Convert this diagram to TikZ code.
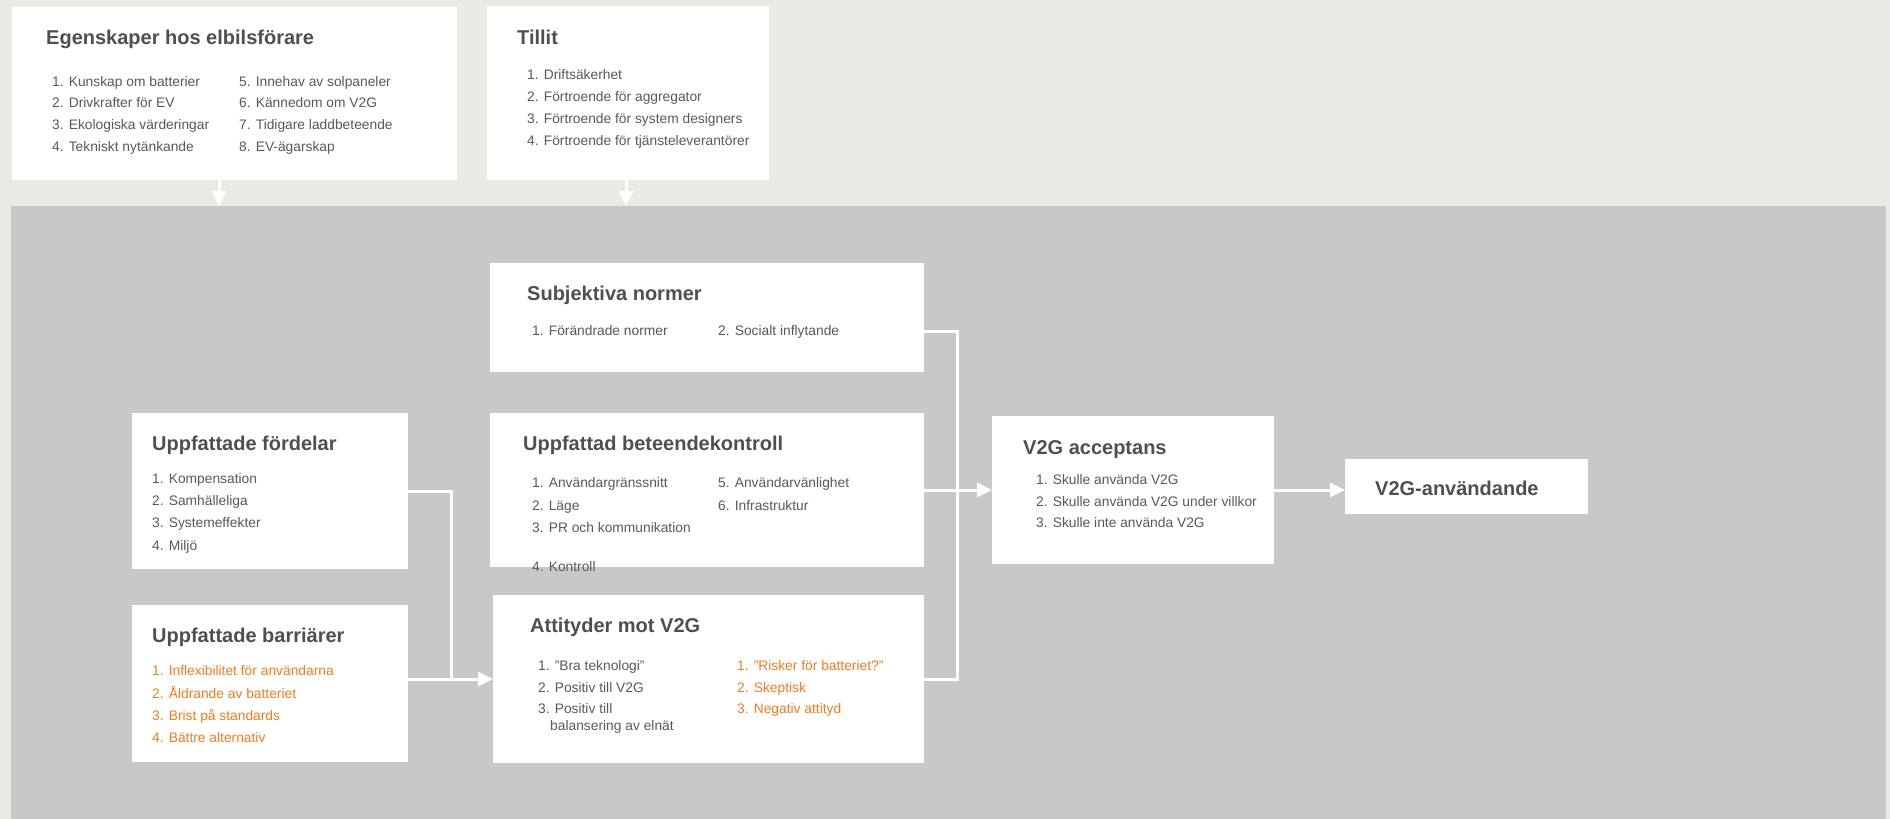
\documentclass[tikz,border=0pt]{standalone}
\usepackage{fontspec}
\setmainfont{Liberation Sans}
\usetikzlibrary{arrows.meta}
\definecolor{pagebg}{RGB}{234,234,228}
\definecolor{panelbg}{RGB}{200,200,198}
\definecolor{headcol}{RGB}{77,79,83}
\definecolor{itemcol}{RGB}{89,89,89}
\definecolor{warncol}{RGB}{242,125,30}

\begin{document}
\begin{tikzpicture}[x=1pt,y=-1pt,
  box/.style={fill=white, draw=none, inner sep=0pt, outer sep=0pt, anchor=north west},
  head/.style={font=\fontsize{20}{24}\selectfont\bfseries, text=headcol, inner sep=0pt, anchor=base west},
  item/.style={font=\fontsize{13.8}{16}\selectfont, text=itemcol, inner sep=0pt, anchor=base west},
  warn/.style={item, text=warncol},
  link/.style={draw=white, line width=3pt, line cap=rect},
  flow/.style={draw=white, line width=3pt, -{Triangle[length=15pt,width=14pt]}},
]
% page and grey model panel
\useasboundingbox (0,0) rectangle (1890,819);
\fill[pagebg] (0,0) rectangle (1890,819);
\node[fill=panelbg, inner sep=0pt, outer sep=0pt, anchor=north west,
      minimum width=1875pt, minimum height=613pt] (panel) at (11,206) {};

% ---- external factors (top row)
\node[box, minimum width=445pt, minimum height=173pt] (egen) at (12,7) {};
\node[head] (egenT) at (46,44) {Egenskaper hos elbilsförare};
\node[item] (egen1) at (52,86)  {1. Kunskap om batterier};
\node[item] (egen2) at (52,107) {2. Drivkrafter för EV};
\node[item] (egen3) at (52,129) {3. Ekologiska värderingar};
\node[item] (egen4) at (52,151) {4. Tekniskt nytänkande};
\node[item] (egen5) at (239,86)  {5. Innehav av solpaneler};
\node[item] (egen6) at (239,107) {6. Kännedom om V2G};
\node[item] (egen7) at (239,129) {7. Tidigare laddbeteende};
\node[item] (egen8) at (239,151) {8. EV-ägarskap};

\node[box, minimum width=282pt, minimum height=174pt] (tillit) at (487,6) {};
\node[head] (tillitT) at (517,44) {Tillit};
\node[item] (tillit1) at (527,79)  {1. Driftsäkerhet};
\node[item] (tillit2) at (527,101) {2. Förtroende för aggregator};
\node[item] (tillit3) at (527,123) {3. Förtroende för system designers};
\node[item] (tillit4) at (527,145) {4. Förtroende för tjänsteleverantörer};

% ---- perceived benefits and barriers
\node[box, minimum width=276pt, minimum height=156pt] (ford) at (132,413) {};
\node[head] (fordT) at (152,450) {Uppfattade fördelar};
\node[item] (ford1) at (152,483) {1. Kompensation};
\node[item] (ford2) at (152,505) {2. Samhälleliga};
\node[item] (ford3) at (152,527) {3. Systemeffekter};
\node[item] (ford4) at (152,550) {4. Miljö};

\node[box, minimum width=276pt, minimum height=157pt] (barr) at (132,605) {};
\node[head] (barrT) at (152,642) {Uppfattade barriärer};
\node[warn] (barr1) at (152,675) {1. Inflexibilitet för användarna};
\node[warn] (barr2) at (152,698) {2. Åldrande av batteriet};
\node[warn] (barr3) at (152,720) {3. Brist på standards};
\node[warn] (barr4) at (152,742) {4. Bättre alternativ};

% ---- middle column
\node[box, minimum width=434pt, minimum height=109pt] (subj) at (490,263) {};
\node[head] (subjT) at (527,300) {Subjektiva normer};
\node[item] (subj1) at (532,335) {1. Förändrade normer};
\node[item] (subj2) at (718,335) {2. Socialt inflytande};

\node[box, minimum width=434pt, minimum height=154pt] (ctrl) at (490,413) {};
\node[head] (ctrlT) at (523,450) {Uppfattad beteendekontroll};
\node[item] (ctrl1) at (532,487) {1. Användargränssnitt};
\node[item] (ctrl2) at (532,510) {2. Läge};
\node[item] (ctrl3) at (532,532) {3. PR och kommunikation};
\node[item] (ctrl4) at (532,571) {4. Kontroll};
\node[item] (ctrl5) at (718,487) {5. Användarvänlighet};
\node[item] (ctrl6) at (718,510) {6. Infrastruktur};

\node[box, minimum width=431pt, minimum height=168pt] (att) at (493,595) {};
\node[head] (attT) at (530,632) {Attityder mot V2G};
\node[item] (att1) at (538,670) {1. "Bra teknologi"};
\node[item] (att2) at (538,692) {2. Positiv till V2G};
\node[item] (att3) at (538,713) {3. Positiv till};
\node[item] (att3b) at (550,730) {balansering av elnät};
\node[warn] (att4) at (737,670) {1. "Risker för batteriet?"};
\node[warn] (att5) at (737,692) {2. Skeptisk};
\node[warn] (att6) at (737,713) {3. Negativ attityd};

% ---- outcome
\node[box, minimum width=282pt, minimum height=148pt] (acc) at (992,416) {};
\node[head] (accT) at (1023,454) {V2G acceptans};
\node[item] (acc1) at (1036,484) {1. Skulle använda V2G};
\node[item] (acc2) at (1036,506) {2. Skulle använda V2G under villkor};
\node[item] (acc3) at (1036,527) {3. Skulle inte använda V2G};

\node[box, minimum width=243pt, minimum height=55pt] (anv) at (1345,459) {};
\node[head] (anvT) at (1375,495) {V2G-användande};

% ---- connectors
\coordinate (jL) at (451,679);
\coordinate (jR) at (957,489);

\draw[flow] ([xshift=-15.5pt]egen.south) -- ([xshift=-15.5pt]egen.south |- panel.north);
\draw[flow] ([xshift=-2pt]tillit.south) -- ([xshift=-2pt]tillit.south |- panel.north);

\draw[link] (ford.east) -| (jL);
\draw[link] (barr.east |- jL) -- (jL);
\draw[flow] (jL) -- (att.west);

\draw[link] ([yshift=-13.5pt]subj.east) -| (jR |- att.east) -- (att.east);
\draw[flow] (ctrl.east) -- (ctrl.east -| acc.west);
\draw[flow] (acc.east) -- (acc.east -| anv.west);
\end{tikzpicture}
\end{document}
